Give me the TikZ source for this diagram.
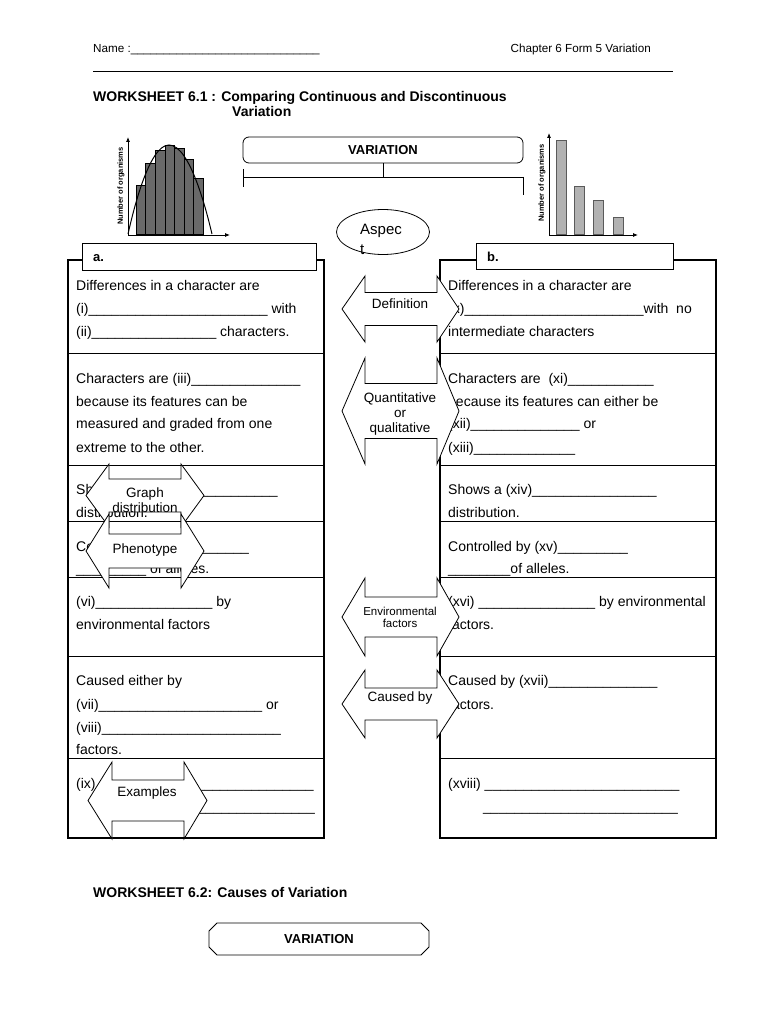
\documentclass[tikz,border=0pt]{standalone}
\usepackage{fontspec}
\setmainfont{Liberation Sans}
\usetikzlibrary{arrows.meta,shapes.geometric}
\ExplSyntaxOn
\NewDocumentCommand\wsblank{m}{\prg_replicate:nn{#1}{\_}}
\ExplSyntaxOff
\definecolor{bardark}{RGB}{105,105,105}
\definecolor{barlight}{RGB}{178,178,178}
\definecolor{baredge}{RGB}{90,90,90}
\tikzset{
  body/.style={anchor=base west, inner sep=0pt, font=\fontsize{14}{17}\selectfont},
  hdr/.style={anchor=base west, inner sep=0pt, font=\fontsize{11.7}{14}\selectfont},
  titletxt/.style={anchor=base west, inner sep=0pt, font=\bfseries\fontsize{14}{17}\selectfont},
  lab/.style={align=center, inner sep=0pt, font=\fontsize{13.5}{15}\selectfont},
  smalllab/.style={align=center, inner sep=0pt, font=\fontsize{11.5}{12}\selectfont},
  thickbox/.style={line width=1.8pt},
  divider/.style={line width=0.8pt},
  arrshape/.style={draw, fill=white, line width=0.8pt, line join=miter},
  tabbox/.style={draw, fill=white, line width=0.9pt, anchor=north west, inner sep=0pt},
  axislabel/.style={rotate=90, inner sep=0pt, font=\bfseries\fontsize{7.5}{9}\selectfont},
  axisline/.style={line width=0.8pt, -{Latex[length=5pt,width=4pt]}},
}
\newcommand\DArrow[7]{%
  \draw[arrshape] ({#1},{#5}) -- ({#2},{#5-#6}) -- ({#2},{#5-#7}) -- ({#3},{#5-#7})
    -- ({#3},{#5-#6}) -- ({#4},{#5}) -- ({#3},{#5+#6}) -- ({#3},{#5+#7})
    -- ({#2},{#5+#7}) -- ({#2},{#5+#6}) -- cycle;}
\begin{document}
\begin{tikzpicture}[x=1pt,y=-1pt]
\useasboundingbox (0,0) rectangle (768,1024);
\fill[white] (0,0) rectangle (768,1024);

% header
\node[hdr] (name) at (93,53) {Name :\wsblank{29}};
\node[hdr, anchor=base east] (chap) at (651,53) {Chapter 6 Form 5 Variation};
\coordinate (ruleL) at (93,71);
\coordinate (ruleR) at (673,71);
\draw[line width=0.8pt] (ruleL) -- (ruleR);
\node[titletxt] (ws1) at (93,102) {WORKSHEET 6.1 : Comparing Continuous and Discontinuous};
\node[titletxt] (ws1b) at (232,117) {Variation};

% left graph
\foreach \x/\t in {136/185,145.6/163,155.2/150,164.8/145,174.4/148,184/159,193.6/178}
  \draw[fill=bardark, line width=0.5pt] (\x,234) rectangle ({\x+9.6},\t);
\draw[line width=1pt] (128,234) parabola bend (169,145) (212,234);
\draw[axisline] (128,235) -- (128,137);
\draw[axisline] (128,235) -- (230,235);
\node[axislabel] (glL) at (121,186) {Number of organisms};

% right graph
\foreach \a/\b/\t in {556/566/140,574/584/186,593/603/200,613/623/217}
  \draw[fill=barlight, draw=baredge, line width=0.6pt] (\a,234) rectangle (\b,\t);
\draw[axisline] (549,235) -- (549,133);
\draw[axisline] (549,235) -- (638,235);
\node[axislabel] (glR) at (542,183) {Number of organisms};

% top variation box and bracket
\node[draw, rounded corners=6pt, line width=0.8pt, minimum width=280pt, minimum height=26pt,
      inner sep=0pt, font=\bfseries\fontsize{13}{15}\selectfont] (var1) at (383,150) {VARIATION};
\coordinate (brM) at (383,177);
\coordinate (brL) at (243,177);
\coordinate (brR) at (523,177);
\draw[line width=0.8pt] (var1.south) -- (brM);
\draw[line width=0.8pt] (brL) -- (brR);
\draw[line width=0.8pt] (243,169) -- (243,187);
\draw[line width=0.8pt] (brR) -- (523,195);

% aspect ellipse
\node[draw, ellipse, minimum width=93pt, minimum height=45pt, line width=0.8pt, fill=white] (aspect) at (383,232) {};
\node[anchor=base west, inner sep=0pt, font=\fontsize{15}{18}\selectfont] (aspT1) at (360,235) {Aspec};
\node[anchor=base west, inner sep=0pt, font=\fontsize{15}{18}\selectfont] (aspT2) at (360,254) {t};

% big boxes
\draw[thickbox] (68,260) rectangle (324,838);
\draw[thickbox] (440,260) rectangle (716,838);
\foreach \y in {353,465,521,577,656,758} {
  \draw[divider] (68,\y) -- (324,\y);
  \draw[divider] (440,\y) -- (716,\y);
}
% tabs
\node[tabbox, minimum width=234pt, minimum height=27pt] (tabA) at (82,243) {};
\node[tabbox, minimum width=197pt, minimum height=26pt] (tabB) at (476,243) {};
\node[anchor=base west, inner sep=0pt, font=\bfseries\fontsize{13}{15}\selectfont] (tabAt) at (93,261) {a.};
\node[anchor=base west, inner sep=0pt, font=\bfseries\fontsize{13}{15}\selectfont] (tabBt) at (487,261) {b.};

% left column text
\node[body] (l1) at (76,290) {Differences in a character are};
\node[body] (l2) at (76,313) {(i)\wsblank{23} with};
\node[body] (l3) at (76,336) {(ii)\wsblank{16} characters.};
\node[body] (l4) at (76,383) {Characters are (iii)\wsblank{14}};
\node[body] (l5) at (76,406) {because its features can be};
\node[body] (l6) at (76,428) {measured and graded from one};
\node[body] (l7) at (76,452) {extreme to the other.};
\node[body] (l8) at (76,494) {Shows a (iv)\wsblank{16}};
\node[body] (l9) at (76,517) {distribution.};
\node[body] (l10) at (76,551) {Controlled by (v)\wsblank{9}};
\node[body] (l11) at (76,573) {\wsblank{9} of alleles.};
\node[body] (l12) at (76,606) {(vi)\wsblank{15} by};
\node[body] (l13) at (76,629) {environmental factors};
\node[body] (l14) at (76,685) {Caused either by};
\node[body] (l15) at (76,709) {(vii)\wsblank{21} or};
\node[body] (l16) at (76,732) {(viii)\wsblank{23}};
\node[body] (l17) at (76,754) {factors.};
\node[body] (l18) at (76,788) {(ix)\wsblank{28}};
\node[body] (l19) at (120,811) {\wsblank{25}};

% right column text
\node[body] (r1) at (448,290) {Differences in a character are};
\node[body] (r2) at (448,313) {(x)\wsblank{23}with\ \ no};
\node[body] (r3) at (448,336) {intermediate characters};
\node[body] (r4) at (448,383) {Characters are\ \ (xi)\wsblank{11}};
\node[body] (r5) at (448,406) {because its features can either be};
\node[body] (r6) at (448,428) {(xii)\wsblank{14} or};
\node[body] (r7) at (448,452) {(xiii)\wsblank{13}};
\node[body] (r8) at (448,494) {Shows a (xiv)\wsblank{16}};
\node[body] (r9) at (448,517) {distribution.};
\node[body] (r10) at (448,551) {Controlled by (xv)\wsblank{9}};
\node[body] (r11) at (448,573) {\wsblank{8}of alleles.};
\node[body] (r12) at (448,606) {(xvi) \wsblank{15} by environmental};
\node[body] (r13) at (448,629) {factors.};
\node[body] (r14) at (448,685) {Caused by (xvii)\wsblank{14}};
\node[body] (r15) at (448,709) {factors.};
\node[body] (r16) at (448,788) {(xviii) \wsblank{25}};
\node[body] (r17) at (483,811) {\wsblank{25}};

% double arrows
\DArrow{342}{365}{437}{459}{309}{33}{16.5}
\DArrow{342}{365}{437}{459}{411}{53}{27.5}
\DArrow{342}{365}{437}{459}{617}{39}{20}
\DArrow{342}{365}{437}{459}{704}{34}{16}
\DArrow{86}{109}{181}{204}{495.5}{31.5}{16.5}
\DArrow{86}{109}{181}{204}{551}{37}{17}
\DArrow{88}{112}{184}{207}{800.5}{38.5}{20.5}

% arrow labels
\node[lab] (aDef) at (400,304) {Definition};
\node[lab] (aQuant) at (400,414) {Quantitative\\or\\qualitative};
\node[smalllab] (aEnv) at (400,617) {Environmental\\factors};
\node[lab] (aCause) at (400,698) {Caused by};
\node[lab] (aGraph) at (145,500) {Graph\\distribution};
\node[lab] (aPheno) at (145,550) {Phenotype};
\node[lab] (aEx) at (147,793) {Examples};

% worksheet 6.2
\node[titletxt] (ws2) at (93,897) {WORKSHEET 6.2: Causes of Variation};
\draw[line width=0.8pt] (217,923) -- (421,923) -- (429,931) -- (429,947) -- (421,955)
   -- (217,955) -- (209,947) -- (209,931) -- cycle;
\node[inner sep=0pt, font=\bfseries\fontsize{13}{15}\selectfont] (var2) at (319,939) {VARIATION};
\end{tikzpicture}
\end{document}
